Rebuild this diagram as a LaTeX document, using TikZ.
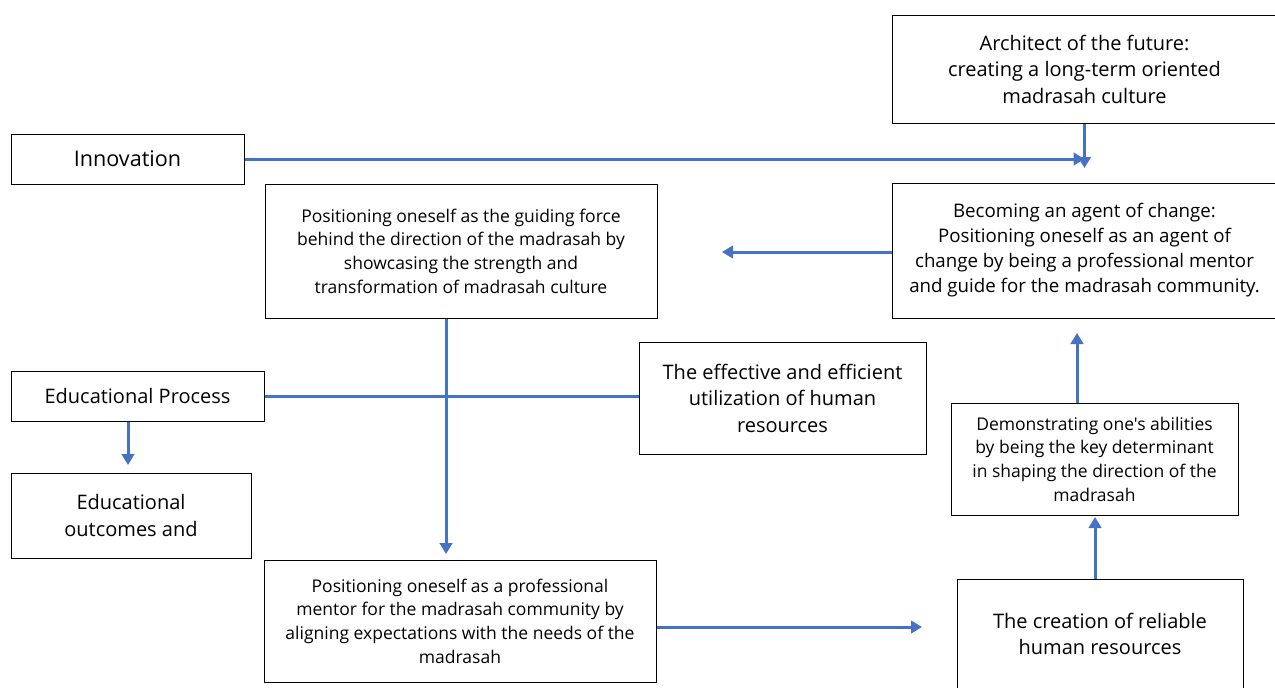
\documentclass[tikz,border=0pt]{standalone}
\usepackage{fontspec}
\setmainfont{Open Sans}[Ligatures=TeXOff]
\usetikzlibrary{arrows.meta}
\definecolor{connblue}{HTML}{4472C4}
\begin{document}
\begin{tikzpicture}[x=1pt,y=-1pt,
  box/.style={draw=black, line width=1pt, inner sep=0pt, align=center, fill=white},
  conn/.style={draw=connblue, line width=3pt},
  arr/.style={conn, -{Triangle[width=12.5pt,length=11pt]}},
  big/.style={font=\fontsize{20}{26.5}\selectfont},
  mid/.style={font=\fontsize{18.7}{25}\selectfont},
  small/.style={font=\fontsize{17.5}{23.7}\selectfont}]
\useasboundingbox (0,0) rectangle (1275,688);
\node[box, big, minimum width=385pt, minimum height=108pt] (arch) at (1084.5,69)
  {Architect of the future:\\ creating a long-term oriented\\ madrasah culture};
\node[box, font=\fontsize{21.6}{27}\selectfont, minimum width=233pt, minimum height=50pt] (inno) at (127.5,159) {Innovation};
\node[box, small, minimum width=392pt, minimum height=134pt] (guide) at (461,251)
  {Positioning oneself as the guiding force\\ behind the direction of the madrasah by\\ showcasing the strength and\\ transformation of madrasah culture};
\node[box, mid, minimum width=385pt, minimum height=135pt] (agent) at (1084.5,250.5)
  {Becoming an agent of change:\\ Positioning oneself as an agent of\\ change by being a professional mentor\\ and guide for the madrasah community.};
\node[box, big, minimum width=253pt, minimum height=50pt] (edu) at (137.5,396) {Educational Process};
\node[box, big, minimum width=240pt, minimum height=85pt] (outc) at (131,515.5) {Educational\\ outcomes and};
\node[box, big, minimum width=287pt, minimum height=112pt] (eff) at (782.5,398)
  {The effective and efficient\\ utilization of human\\ resources};
\node[box, small, minimum width=287pt, minimum height=112pt] (demo) at (1094.5,459)
  {Demonstrating one's abilities\\ by being the key determinant\\ in shaping the direction of the\\ madrasah};
\node[box, small, minimum width=392pt, minimum height=122pt] (ment) at (460,621)
  {Positioning oneself as a professional\\ mentor for the madrasah community by\\ aligning expectations with the needs of the\\ madrasah};
\node[box, big, minimum width=286pt, minimum height=110pt] (crea) at (1100,634)
  {The creation of reliable\\ human resources};
% connectors
\coordinate (archend) at (1084.5,168);
\coordinate (agentend) at (722,252);
\coordinate (gend) at (446,554);
\coordinate (eend) at (128,465);
\coordinate (mend) at (922,627);
\coordinate (cend) at (1095,517);
\coordinate (dend) at (1077,333);
\draw[arr] (inno.east) -- (inno.east -| arch.south);
\draw[arr] (arch.south) -- (archend);
\draw[arr] (agent.west |- agentend) -- (agentend);
\draw[arr] (gend |- guide.south) -- (gend);
\draw[conn] (edu.east) -- (edu.east -| eff.west);
\draw[arr] (eend |- edu.south) -- (eend);
\draw[arr] (ment.east |- mend) -- (mend);
\draw[arr] (cend |- crea.north) -- (cend);
\draw[arr] (dend |- demo.north) -- (dend);
\end{tikzpicture}
\end{document}
